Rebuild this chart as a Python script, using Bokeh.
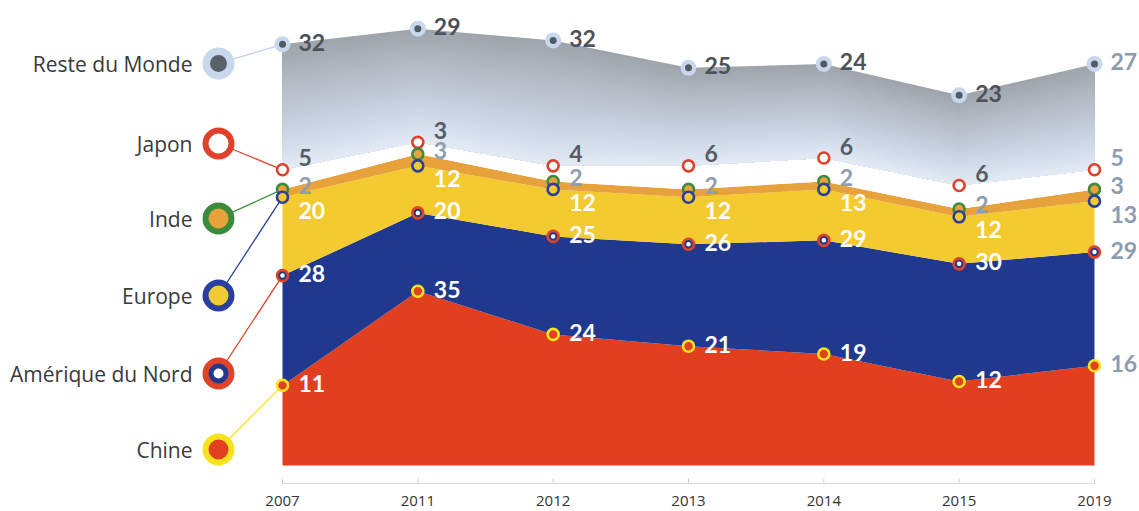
import numpy as np
from bokeh.plotting import figure
from bokeh.models import Range1d
from bokeh.core.properties import value
from bokeh.embed import file_html
from bokeh.resources import INLINE

# ---------------- data ----------------
years = ["2007", "2011", "2012", "2013", "2014", "2015", "2019"]
series = ["Chine", "Amérique du Nord", "Europe", "Inde", "Japon", "Reste du Monde"]
chine = [11, 35, 24, 21, 19, 12, 16]
amerique_du_nord = [28, 20, 25, 26, 29, 30, 29]
europe = [20, 12, 12, 12, 13, 12, 13]
inde = [2, 3, 2, 2, 2, 2, 3]
japon = [5, 3, 4, 6, 6, 6, 5]
reste_du_monde = [32, 29, 32, 25, 24, 23, 27]

# ---------------- layout helpers ----------------
W, H = 1139, 511
X_PX0, X_STEP = 282.0, 135.33   # screen px of first category, px per category
Y_PX0, Y_SCALE = 428.0, 3.92    # screen px of value 0, px per unit


def vx(px):
    return (px - X_PX0) / X_STEP


def vy(py):
    return (Y_PX0 - py) / Y_SCALE


p = figure(width=W, height=H, x_range=Range1d(vx(0), vx(W)), y_range=Range1d(vy(H), vy(0)),
           output_backend="svg", toolbar_location=None, x_axis_location=None,
           y_axis_location=None, min_border=0, outline_line_color=None,
           background_fill_color="white", border_fill_color="white")
p.grid.visible = False

xs = np.arange(len(years))
vals = np.array([chine, amerique_du_nord, europe, inde, japon, reste_du_monde], dtype=float)
tops = np.cumsum(vals, axis=0)
BASE = vy(465)
bottoms = [np.full(len(years), BASE)] + [tops[k - 1] for k in range(1, len(series))]

band_colors = ["#e23e20", "#21388f", "#f3ca30", "#e8a23c", "#ffffff"]
for k in range(5):
    p.varea(x=xs, y1=bottoms[k], y2=tops[k], fill_color=band_colors[k], fill_alpha=1)

# gradient for "Reste du Monde"
stops = [(0.0, (0xe4, 0xeb, 0xf5)), (0.15, (0xd5, 0xdf, 0xed)), (0.4, (0xc4, 0xce, 0xdc)),
         (0.7, (0xb3, 0xba, 0xc4)), (1.0, (0x9e, 0xa4, 0xab))]


def grad(f):
    for (f0, c0), (f1, c1) in zip(stops[:-1], stops[1:]):
        if f <= f1:
            t = (f - f0) / (f1 - f0)
            return "#%02x%02x%02x" % tuple(int(round(a + (b - a) * t)) for a, b in zip(c0, c1))
    return "#%02x%02x%02x" % stops[-1][1]


N = 40
lo, hi = bottoms[5], tops[5]
for k in range(N - 1, -1, -1):
    f = (k + 0.5) / N
    p.varea(x=xs, y1=lo, y2=lo + (hi - lo) * (k + 1) / N, fill_color=grad(f), fill_alpha=1)

# faint axis line, ticks and year labels
AX = vy(483)
p.line(x=[xs[0], xs[-1]], y=[AX, AX], line_color="#d5dbe4", line_width=1)
p.segment(x0=xs, y0=[AX] * len(xs), x1=xs, y1=[AX + 5 / Y_SCALE] * len(xs),
          line_color="#c9d0da", line_width=1)
p.text(x=xs, y=[vy(500)] * len(xs), text=years, text_align="center", text_baseline="middle",
       text_font=value("Open Sans"), text_font_size="15px", text_color="#333333")

# ---------------- legend ----------------
leg_px = [63, 143, 218, 295, 373, 449]          # screen y for Reste..Chine
leg_order = [5, 4, 3, 2, 1, 0]
LX = vx(218)
leg_y = {k: vy(py) for k, py in zip(leg_order, leg_px)}
ring = {0: "#f6e31d", 1: "#dd4429", 2: "#2b3f9c", 3: "#3c8a3c", 4: "#e0412a", 5: "#bfd2ea"}

# connector lines
for k in range(6):
    p.line(x=[LX, xs[0]], y=[leg_y[k], tops[k][0]], line_color=ring[k], line_width=1.3)

for k in range(6):
    ly = [leg_y[k]]
    if k == 5:
        p.scatter(x=[LX], y=ly, size=32, fill_color="#c8d8ec", line_color=None)
        p.scatter(x=[LX], y=ly, size=17, fill_color="#58616a", line_color=None)
    else:
        fill = {0: "#e2401f", 1: "#21388f", 2: "#f1cb35", 3: "#e8a23c", 4: "#ffffff"}[k]
        p.scatter(x=[LX], y=ly, size=26, fill_color=fill, line_color=ring[k], line_width=6)
        if k == 1:
            p.scatter(x=[LX], y=ly, size=10, fill_color="#ffffff", line_color=None)
    p.text(x=[LX], y=ly, text=[series[k]], x_offset=-26, text_align="right",
           text_baseline="middle", text_font=value("Open Sans"), text_font_size="21px",
           text_color="#3a3a3a")

# ---------------- data markers ----------------
for k in [5, 4, 3, 2, 1, 0]:
    if k == 5:
        p.scatter(x=xs, y=tops[k], size=16, fill_color="#c8d8ec", line_color=None)
        p.scatter(x=xs, y=tops[k], size=7, fill_color="#535b63", line_color=None)
    else:
        fill = {0: "#e2401f", 1: "#21388f", 2: "#f3ca30", 3: "#e8a23c", 4: "#ffffff"}[k]
        p.scatter(x=xs, y=tops[k], size=11, fill_color=fill, line_color=ring[k], line_width=2.6)
        if k == 1:
            p.scatter(x=xs, y=tops[k], size=4.5, fill_color="#ffffff", line_color=None)

# ---------------- value labels ----------------
lab_col = {0: "#ffffff", 1: "#ffffff", 2: "#ffffff", 3: "#8e9db1", 4: "#555c63", 5: "#4b5259"}
lab_dy = {0: -2, 1: -2, 2: 13, 3: -4, 4: -12, 5: -2}
LAST_COL = "#8b9bb0"
for k in range(6):
    cols = [lab_col[k]] * (len(xs) - 1) + [LAST_COL]
    p.text(x=xs, y=tops[k], text=[str(int(v)) for v in vals[k]], x_offset=16, y_offset=lab_dy[k],
           text_align="left", text_baseline="middle", text_font=value("Lato"),
           text_font_style="bold", text_font_size="23px", text_color=cols)

open("out.html", "w").write(file_html(p, INLINE))
